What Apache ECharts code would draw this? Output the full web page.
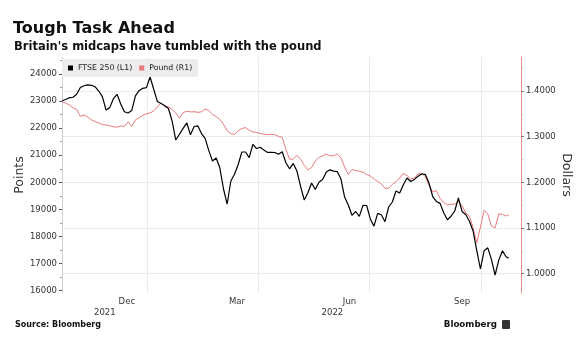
<!DOCTYPE html>
<html>
<head>
<meta charset="utf-8">
<script src="https://cdn.jsdelivr.net/npm/echarts@6/dist/echarts.min.js"></script>
<style>html,body{margin:0;padding:0;background:#fff}#c{width:585px;height:353px}</style>
</head>
<body>
<div id="c"></div>
<script>
const dates = [
'2021-10-23','2021-10-26','2021-10-29','2021-11-01','2021-11-04','2021-11-07','2021-11-10','2021-11-13','2021-11-16','2021-11-19',
'2021-11-22','2021-11-25','2021-11-28','2021-12-01','2021-12-04','2021-12-07','2021-12-10','2021-12-13','2021-12-16','2021-12-19',
'2021-12-22','2021-12-25','2021-12-28','2021-12-31','2022-01-03','2022-01-06','2022-01-09','2022-01-12','2022-01-15','2022-01-18',
'2022-01-21','2022-01-24','2022-01-27','2022-01-30','2022-02-02','2022-02-05','2022-02-08','2022-02-11','2022-02-14','2022-02-17',
'2022-02-20','2022-02-23','2022-02-26','2022-03-01','2022-03-04','2022-03-07','2022-03-10','2022-03-13','2022-03-16','2022-03-19',
'2022-03-22','2022-03-25','2022-03-28','2022-03-31','2022-04-03','2022-04-06','2022-04-09','2022-04-12','2022-04-15','2022-04-18',
'2022-04-21','2022-04-24','2022-04-27','2022-04-30','2022-05-03','2022-05-06','2022-05-09','2022-05-12','2022-05-15','2022-05-18',
'2022-05-21','2022-05-24','2022-05-27','2022-05-30','2022-06-02','2022-06-05','2022-06-08','2022-06-11','2022-06-14','2022-06-17',
'2022-06-20','2022-06-23','2022-06-26','2022-06-29','2022-07-02','2022-07-05','2022-07-08','2022-07-11','2022-07-14','2022-07-17',
'2022-07-20','2022-07-23','2022-07-26','2022-07-29','2022-08-01','2022-08-04','2022-08-07','2022-08-10','2022-08-13','2022-08-16',
'2022-08-19','2022-08-22','2022-08-25','2022-08-28','2022-08-31','2022-09-03','2022-09-06','2022-09-09','2022-09-12','2022-09-15',
'2022-09-18','2022-09-21','2022-09-24','2022-09-27','2022-09-30','2022-10-03','2022-10-06','2022-10-09','2022-10-12','2022-10-15',
'2022-10-18','2022-10-21','2022-10-23'
];
const ftse = [
23014,23059,23121,23143,23250,23502,23568,23601,23583,23531,
23372,23166,22671,22759,23088,23250,22892,22608,22560,22649,
23195,23383,23472,23498,23889,23428,22985,22911,22830,22726,
22265,21563,21777,21992,22195,21759,22062,22088,21800,21622,
21172,20788,20899,20537,19754,19200,20050,20297,20659,21120,
21120,20913,21405,21249,21294,21194,21105,21109,21102,21035,
21128,20725,20500,20699,20419,19854,19348,19614,19979,19736,
20005,20109,20378,20463,20415,20397,20123,19459,19163,18783,
18924,18746,19152,19145,18650,18381,18853,18805,18547,19090,
19274,19680,19606,19913,20160,20031,20109,20227,20308,20293,
19968,19477,19296,19223,18876,18621,18750,18942,19422,18927,
18816,18565,18204,17487,16801,17472,17583,17155,16579,17129,
17472,17255,17196
];
const pound = [
1.3766,1.3737,1.3693,1.3634,1.3595,1.3446,1.3475,1.3431,1.3369,1.3334,
1.3299,1.3262,1.3256,1.3238,1.3218,1.3207,1.3234,1.3223,1.3323,1.3223,
1.3369,1.3413,1.3468,1.3499,1.3523,1.3558,1.3650,1.3739,1.3656,1.3656,
1.3595,1.3518,1.3407,1.3527,1.3558,1.3542,1.3547,1.3531,1.3545,1.3599,
1.3577,1.3485,1.3442,1.3378,1.3271,1.3129,1.3065,1.3052,1.3124,1.3179,
1.3199,1.3140,1.3102,1.3091,1.3072,1.3054,1.3045,1.3052,1.3043,1.3006,
1.2986,1.2724,1.2505,1.2511,1.2590,1.2505,1.2371,1.2275,1.2323,1.2467,
1.2548,1.2579,1.2621,1.2581,1.2581,1.2621,1.2533,1.2336,1.2172,1.2281,
1.2257,1.2244,1.2220,1.2174,1.2139,1.2073,1.2021,1.1964,1.1870,1.1868,
1.1953,1.2014,1.2095,1.2198,1.2152,1.2073,1.2095,1.2181,1.2205,1.2122,
1.1931,1.1795,1.1819,1.1649,1.1563,1.1504,1.1519,1.1522,1.1583,1.1491,
1.1329,1.1261,1.1009,1.0672,1.1022,1.1388,1.1311,1.1044,1.1001,1.1311,
1.1298,1.1263,1.1285
];
const seriesNames = ['FTSE 250 (L1)', 'Pound (R1)'];
const leftTicks = [16000,17000,18000,19000,20000,21000,22000,23000,24000];
const leftMinorTicks = [16500,17500,18500,19500,20500,21500,22500,23500,24500];
const rightTicks = [1.0,1.1,1.2,1.3,1.4];
const rightMinorTicks = [1.05,1.15,1.25,1.35,1.45];
const monthLabelDates = ['2021-12-15','2022-03-15','2022-06-15','2022-09-15'];
const monthLabels = ['Dec','Mar','Jun','Sep'];
const quarterStarts = ['2022-01-01','2022-04-01','2022-07-01','2022-10-01'];
const yearLabelDates = ['2021-11-27','2022-06-01'];
const yearLabels = ['2021','2022'];

const P = s => echarts.time.parse(s).getTime();
const FONT = 'DejaVu Sans';
const xMin = P('2021-10-23'), xMax = P('2022-11-02 04:00');
const monthTs = monthLabelDates.map(P);
const yearTs = yearLabelDates.map(P);

const chart = echarts.init(document.getElementById('c'), null, {renderer:'canvas'});
chart.setOption({
  animation: false,
  backgroundColor: '#ffffff',
  textStyle: {fontFamily: FONT},
  title: [
    {text: 'Tough Task Ahead', left: 13, top: 21, padding: 0,
     textStyle: {fontFamily: FONT, fontSize: 16, fontWeight: 'bold', color: '#111'}},
    {text: "Britain's midcaps have tumbled with the pound", left: 14, top: 41, padding: 0,
     textStyle: {fontFamily: FONT, fontSize: 11.5, fontWeight: 'bold', color: '#111'}},
    {text: 'Source: Bloomberg', left: 15, top: 321, padding: 0,
     textStyle: {fontFamily: FONT, fontSize: 8, fontWeight: 'bold', color: '#111'}},
    {text: 'Bloomberg', right: 88, top: 320, padding: 0,
     textStyle: {fontFamily: FONT, fontSize: 8.7, fontWeight: 'bold', color: '#111'}}
  ],
  graphic: [
    {type: 'rect', left: 502, top: 320, shape: {width: 8, height: 9, r: 1}, style: {fill: '#333'}}
  ],
  legend: {
    left: 62, top: 59, padding: [5, 6, 5, 6], itemGap: 7,
    backgroundColor: '#ececec', icon: 'rect', itemWidth: 5, itemHeight: 5,
    textStyle: {fontFamily: FONT, fontSize: 7.8, color: '#222'},
    data: seriesNames
  },
  grid: {left: 62, right: 64, top: 57, bottom: 60, containLabel: false},
  xAxis: [
    {type: 'value', min: xMin, max: xMax,
     axisLine: {show: false}, axisTick: {show: false, customValues: quarterStarts.map(P)},
     splitLine: {show: true, lineStyle: {color: '#ebebeb', width: 1}},
     axisLabel: {customValues: monthTs, margin: 4, hideOverlap: false,
       fontFamily: FONT, fontSize: 8.5, color: '#333',
       formatter: v => monthLabels[monthTs.indexOf(v)] || ''}},
    {type: 'value', min: xMin, max: xMax, position: 'bottom', offset: 11,
     axisLine: {show: false}, axisTick: {show: false}, splitLine: {show: false},
     axisLabel: {customValues: yearTs, margin: 4, hideOverlap: false,
       fontFamily: FONT, fontSize: 8.5, color: '#333',
       formatter: v => yearLabels[yearTs.indexOf(v)] || ''}}
  ],
  yAxis: [
    {type: 'value', position: 'left', min: 15915, max: 24628,
     name: 'Points', nameLocation: 'middle', nameGap: 36, nameMoveOverlap: false,
     nameTextStyle: {fontFamily: FONT, fontSize: 12.5, color: '#333'},
     axisLine: {show: true, lineStyle: {color: '#cfcfcf'}},
     axisTick: {show: true, length: 3, customValues: leftTicks, lineStyle: {color: '#555'}},
     axisLabel: {customValues: leftTicks, margin: 5, fontFamily: FONT, fontSize: 8.5, color: '#333',
       formatter: v => String(v)},
     splitLine: {show: false}},
    {type: 'value', position: 'right', min: 0.9577, max: 1.4744,
     name: 'Dollars', nameLocation: 'middle', nameGap: 39, nameRotate: -90, nameMoveOverlap: false,
     nameTextStyle: {fontFamily: FONT, fontSize: 12.5, color: '#333'},
     axisLine: {show: true, lineStyle: {color: '#ec8d8d'}},
     axisTick: {show: true, length: 3, customValues: rightTicks, lineStyle: {color: '#777'}},
     axisLabel: {customValues: rightTicks, margin: 5, fontFamily: FONT, fontSize: 8.5, color: '#333',
       formatter: v => v.toFixed(4)},
     splitLine: {show: true, lineStyle: {color: '#ebebeb', width: 1}}},
    {type: 'value', position: 'left', min: 15915, max: 24628, gridIndex: 0,
     axisLine: {show: false}, axisLabel: {show: false}, splitLine: {show: false},
     axisTick: {show: true, length: 2, customValues: leftMinorTicks, lineStyle: {color: '#999'}}},
    {type: 'value', position: 'right', min: 0.9577, max: 1.4744, gridIndex: 0,
     axisLine: {show: false}, axisLabel: {show: false}, splitLine: {show: false},
     axisTick: {show: true, length: 2, customValues: rightMinorTicks, lineStyle: {color: '#bbb'}}}
  ],
  series: [
    {name: seriesNames[1], type: 'line', xAxisIndex: 0, yAxisIndex: 1, showSymbol: false, symbol: 'none',
     data: dates.map((d, i) => [P(d), pound[i]]),
     lineStyle: {color: '#e87b7b', width: 1}, itemStyle: {color: '#e87b7b'}, z: 2},
    {name: seriesNames[0], type: 'line', xAxisIndex: 0, yAxisIndex: 0, showSymbol: false, symbol: 'none',
     data: dates.map((d, i) => [P(d), ftse[i]]),
     lineStyle: {color: '#000000', width: 1.2}, itemStyle: {color: '#000000'}, z: 3}
  ]
});
</script>
</body>
</html>
